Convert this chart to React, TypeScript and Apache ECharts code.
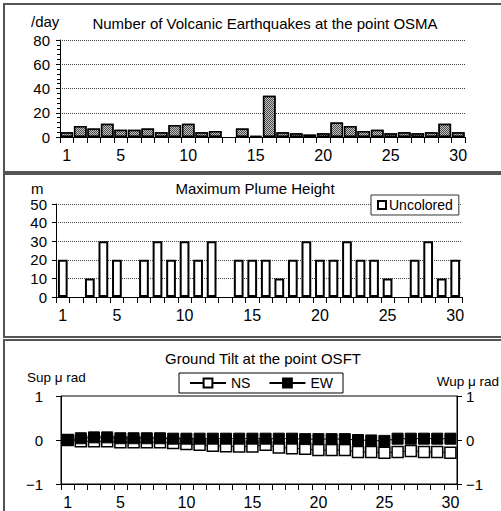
import React, { useEffect, useRef } from "react";
import * as echarts from "echarts";

const days = ["1","2","3","4","5","6","7","8","9","10","11","12","13","14","15","16","17","18","19","20","21","22","23","24","25","26","27","28","29","30"];
const shownDays = ["1", "5", "10", "15", "20", "25", "30"];
const quakes = [4, 9, 7, 11, 6, 6, 7, 4, 10, 11, 4, 5, null, 7, 1, 34, 4, 3, 2, 3, 12, 9, 5, 6, 3, 4, 3, 4, 11, 4];
const plume = [20, null, 10, 30, 20, null, 20, 30, 20, 30, 20, 30, null, 20, 20, 20, 10, 20, 30, 20, 20, 30, 20, 20, 10, null, 20, 30, 10, 20];
const tiltNS = [0.0, -0.03, -0.03, -0.03, -0.05, -0.05, -0.05, -0.05, -0.07, -0.09, -0.11, -0.13, -0.14, -0.15, -0.15, -0.11, -0.17, -0.19, -0.2, -0.23, -0.23, -0.23, -0.27, -0.27, -0.29, -0.27, -0.25, -0.27, -0.27, -0.29];
const tiltEW = [0.0, 0.04, 0.06, 0.06, 0.04, 0.04, 0.04, 0.04, 0.03, 0.03, 0.03, 0.03, 0.03, 0.03, 0.03, 0.03, 0.03, 0.03, 0.02, 0.02, 0.02, 0.02, 0.0, -0.01, -0.02, 0.03, 0.03, 0.03, 0.03, 0.03];

const FONT = "'Liberation Sans', 'Noto Sans CJK JP', sans-serif";

export default function App() {
  const ref = useRef<HTMLDivElement>(null);
  useEffect(() => {
    document.body.style.margin = "0";
    if (!ref.current) return;
    const chart = echarts.init(ref.current, undefined, { renderer: "svg" });

    const xAxisBase = (gridIndex: number) => ({
      type: "category" as const,
      gridIndex,
      data: days,
      boundaryGap: true,
      axisLine: { show: true, onZero: false, lineStyle: { color: "#000", width: 1 } },
      axisTick: { show: true, interval: 0, length: 6, lineStyle: { color: "#000" } },
      axisLabel: {
        interval: (_i: number, v: string) => shownDays.indexOf(v) >= 0,
        fontSize: 16,
        color: "#000",
        fontFamily: FONT,
        margin: 10,
      },
      splitLine: { show: false },
    });

    const dotted = { show: true, lineStyle: { color: "#444", type: [1, 1] as any, width: 1 } };
    const minusFmt = (v: number) => (v < 0 ? "\u2212" + Math.abs(v) : String(v));

    const option: any = {
      animation: false,
      backgroundColor: "#fff",
      textStyle: { fontFamily: FONT },
      grid: [
        { left: 60, top: 40, width: 405, height: 97 },
        { left: 56, top: 204, width: 406, height: 93 },
        { left: 61, top: 396, width: 396, height: 88, show: true, borderColor: "#000", borderWidth: 1, backgroundColor: "transparent" },
      ],
      xAxis: [xAxisBase(0), xAxisBase(1), xAxisBase(2)],
      yAxis: [
        {
          type: "value", gridIndex: 0, min: 0, max: 80, interval: 20,
          axisLine: { show: true, lineStyle: { color: "#000" } },
          axisTick: { show: true, length: 4, lineStyle: { color: "#000" } },
          minorTick: { show: true, splitNumber: 5, length: 3, lineStyle: { color: "#000" } },
          axisLabel: { fontSize: 15, color: "#000", margin: 10, fontFamily: FONT },
          splitLine: dotted,
        },
        {
          type: "value", gridIndex: 1, min: 0, max: 50, interval: 10,
          axisLine: { show: true, lineStyle: { color: "#000" } },
          axisTick: { show: true, length: 4, lineStyle: { color: "#000" } },
          axisLabel: { fontSize: 15, color: "#000", margin: 9, fontFamily: FONT },
          splitLine: dotted,
        },
        {
          type: "value", gridIndex: 2, min: -1, max: 1, interval: 1, position: "left",
          axisLine: { show: true, lineStyle: { color: "#000" } },
          axisTick: { show: true, length: 5, lineStyle: { color: "#000" } },
          axisLabel: { fontSize: 15, color: "#000", margin: 18, fontFamily: FONT, formatter: minusFmt },
          splitLine: { show: false },
        },
        {
          type: "value", gridIndex: 2, min: -1, max: 1, interval: 1, position: "right",
          axisLine: { show: true, lineStyle: { color: "#000" } },
          axisTick: { show: true, length: 5, lineStyle: { color: "#000" } },
          axisLabel: { fontSize: 15, color: "#000", margin: 9, fontFamily: FONT, formatter: minusFmt },
          splitLine: { show: false },
        },
      ],
      legend: [
        {
          data: [{ name: "Uncolored", icon: "rect" }],
          left: 371, top: 195,
          padding: [3, 6, 3, 6],
          itemWidth: 8, itemHeight: 8, itemGap: 4,
          borderColor: "#333", borderWidth: 1, backgroundColor: "#fff",
          textStyle: { fontSize: 14, color: "#000", fontFamily: FONT, padding: [0, 0, 0, -2] },
        },
        {
          data: ["NS", "EW"],
          left: 179, top: 373,
          padding: [3, 10, 3, 10],
          itemWidth: 36, itemHeight: 11, itemGap: 18,
          borderColor: "#000", borderWidth: 1, backgroundColor: "#fff",
          textStyle: { fontSize: 14, color: "#000", fontFamily: FONT },
        },
      ],
      series: [
        {
          name: "Earthquakes", type: "bar", xAxisIndex: 0, yAxisIndex: 0, data: quakes,
          barCategoryGap: "6%",
          itemStyle: {
            color: "#4a4a4a", borderColor: "#000", borderWidth: 1.5,
            decal: { symbol: "rect", symbolSize: 1, color: "#c4c4c4", dashArrayX: [[1, 1], [0, 1, 1, 0]], dashArrayY: [1, 0] },
          },
        },
        {
          name: "Uncolored", type: "bar", xAxisIndex: 1, yAxisIndex: 1, data: plume,
          barCategoryGap: "28%",
          itemStyle: { color: "#fff", borderColor: "#000", borderWidth: 2 },
        },
        {
          name: "NS", type: "line", xAxisIndex: 2, yAxisIndex: 2, data: tiltNS,
          symbol: "rect", symbolSize: 11, showAllSymbol: true,
          itemStyle: { color: "#fff", borderColor: "#000", borderWidth: 1.5 },
          lineStyle: { color: "#000", width: 1 },
        },
        {
          name: "EW", type: "line", xAxisIndex: 2, yAxisIndex: 2, data: tiltEW,
          symbol: "rect", symbolSize: 11, showAllSymbol: true,
          itemStyle: { color: "#000", borderColor: "#000", borderWidth: 1 },
          lineStyle: { color: "#000", width: 1 },
        },
      ],
      graphic: [
        { type: "rect", shape: { x: 4, y: 4, width: 510, height: 168 }, style: { fill: "none", stroke: "#555", lineWidth: 2 }, silent: true },
        { type: "rect", shape: { x: 4, y: 174, width: 510, height: 163 }, style: { fill: "none", stroke: "#555", lineWidth: 2 }, silent: true },
        { type: "rect", shape: { x: 4, y: 340, width: 510, height: 190 }, style: { fill: "none", stroke: "#555", lineWidth: 2 }, silent: true },
        { type: "text", x: 265, y: 23, style: { text: "Number of Volcanic Earthquakes at the point OSMA", fontSize: 15, fill: "#000", fontFamily: FONT, align: "center", verticalAlign: "middle" } },
        { type: "text", x: 31, y: 21, style: { text: "/day", fontSize: 15, fill: "#000", fontFamily: FONT, align: "left", verticalAlign: "middle" } },
        { type: "text", x: 255, y: 188, style: { text: "Maximum Plume Height", fontSize: 15, fill: "#000", fontFamily: FONT, align: "center", verticalAlign: "middle" } },
        { type: "text", x: 31, y: 188, style: { text: "m", fontSize: 15, fill: "#000", fontFamily: FONT, align: "left", verticalAlign: "middle" } },
        { type: "text", x: 263, y: 358, style: { text: "Ground Tilt at the point OSFT", fontSize: 15, fill: "#000", fontFamily: FONT, align: "center", verticalAlign: "middle" } },
        { type: "text", x: 27, y: 377, style: { text: "Sup \u03bc rad", fontSize: 13.5, fill: "#000", fontFamily: FONT, align: "left", verticalAlign: "middle" } },
        { type: "text", x: 499, y: 381, style: { text: "Wup \u03bc rad", fontSize: 13.5, fill: "#000", fontFamily: FONT, align: "right", verticalAlign: "middle" } },
      ],
    };
    chart.setOption(option);
    return () => chart.dispose();
  }, []);
  return <div ref={ref} style={{ width: 501, height: 511 }} />;
}
